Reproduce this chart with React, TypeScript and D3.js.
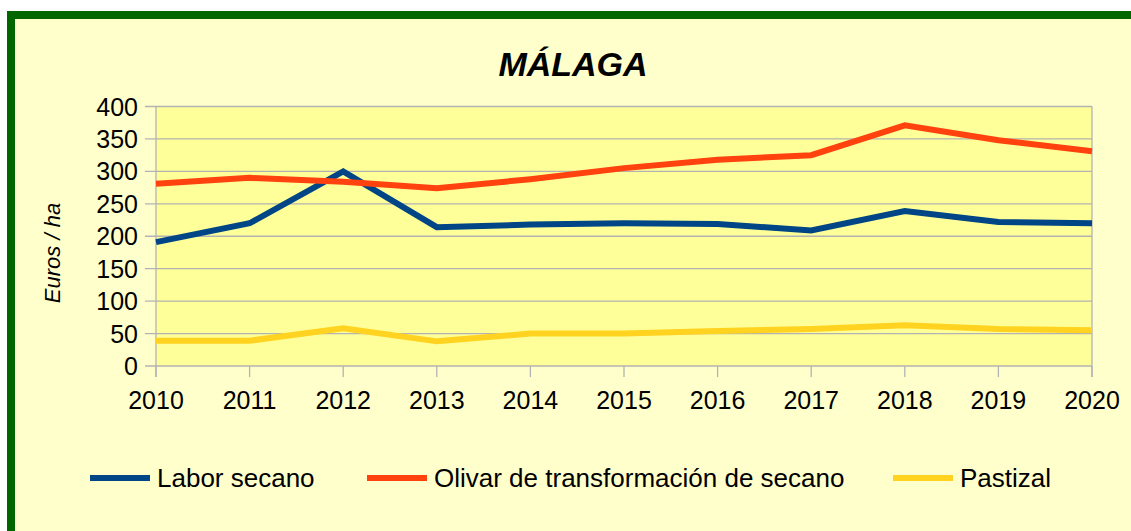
import React, { useEffect, useRef } from 'react';
import * as d3 from 'd3';

const years = ['2010', '2011', '2012', '2013', '2014', '2015', '2016', '2017', '2018', '2019', '2020'];
const laborSecano = [191, 220, 300, 214, 218, 220, 219, 209, 239, 222, 220];
const olivarSecano = [281, 290, 284, 274, 288, 305, 318, 325, 371, 348, 331];
const pastizal = [39, 39, 58, 38, 50, 50, 54, 57, 63, 57, 55];
const yTicks = [0, 50, 100, 150, 200, 250, 300, 350, 400];

const series = [
  { name: 'Labor secano', values: laborSecano, color: '#004586' },
  { name: 'Olivar de transformación de secano', values: olivarSecano, color: '#ff420e' },
  { name: 'Pastizal', values: pastizal, color: '#ffd320' },
];

function App() {
  const ref = useRef<SVGSVGElement>(null);

  useEffect(() => {
    const width = 1131;
    const height = 531;
    const plot = { left: 156, right: 1092, top: 106.5, bottom: 366 };
    const font = '"Liberation Sans", Arial, sans-serif';

    const svg = d3.select(ref.current);
    svg.selectAll('*').remove();

    svg.append('rect').attr('width', width).attr('height', height).attr('fill', '#ffffff');
    // outer frame, cropped at right and bottom
    svg.append('rect')
      .attr('x', 11).attr('y', 15)
      .attr('width', 1300).attr('height', 700)
      .attr('fill', '#ffffcc')
      .attr('stroke', '#006600')
      .attr('stroke-width', 8);

    const x = d3.scalePoint().domain(years).range([plot.left, plot.right]);
    const y = d3.scaleLinear().domain([0, 400]).range([plot.bottom, plot.top]);

    svg.append('rect')
      .attr('x', plot.left).attr('y', plot.top)
      .attr('width', plot.right - plot.left).attr('height', plot.bottom - plot.top)
      .attr('fill', '#ffff99');

    // grid
    svg.append('g').selectAll('line').data(yTicks).enter().append('line')
      .attr('x1', plot.left - 11).attr('x2', plot.right)
      .attr('y1', d => y(d)).attr('y2', d => y(d))
      .attr('stroke', '#b3b3b3').attr('stroke-width', 1.3);

    svg.append('line')
      .attr('x1', plot.left).attr('x2', plot.left)
      .attr('y1', plot.top).attr('y2', plot.bottom + 11)
      .attr('stroke', '#b3b3b3').attr('stroke-width', 1.3);
    svg.append('line')
      .attr('x1', plot.right).attr('x2', plot.right)
      .attr('y1', plot.top).attr('y2', plot.bottom + 11)
      .attr('stroke', '#b3b3b3').attr('stroke-width', 1.3);
    svg.append('g').selectAll('line').data(years).enter().append('line')
      .attr('x1', d => x(d)!).attr('x2', d => x(d)!)
      .attr('y1', plot.bottom).attr('y2', plot.bottom + 11)
      .attr('stroke', '#b3b3b3').attr('stroke-width', 1.3);

    // tick labels
    svg.append('g').selectAll('text').data(yTicks).enter().append('text')
      .attr('x', 138).attr('y', d => y(d))
      .attr('dy', '0.36em')
      .attr('text-anchor', 'end')
      .style('font-family', font).style('font-size', '25px').attr('fill', '#000')
      .text(d => d);

    svg.append('g').selectAll('text').data(years).enter().append('text')
      .attr('x', d => x(d)!).attr('y', 408.5)
      .attr('text-anchor', 'middle')
      .style('font-family', font).style('font-size', '25px').attr('fill', '#000')
      .text(d => d);

    // title
    svg.append('text')
      .attr('x', 573).attr('y', 75.5)
      .attr('text-anchor', 'middle')
      .style('font-family', font).style('font-size', '34px')
      .style('font-weight', 'bold').style('font-style', 'italic')
      .text('MÁLAGA');

    // y axis title
    svg.append('text')
      .attr('transform', 'translate(60,253) rotate(-90)')
      .attr('text-anchor', 'middle')
      .style('font-family', font).style('font-size', '22px').style('font-style', 'italic')
      .text('Euros / ha');

    // lines
    const line = d3.line<number>()
      .x((d, i) => x(years[i])!)
      .y(d => y(d));

    svg.append('g').selectAll('path').data(series).enter().append('path')
      .attr('d', d => line(d.values))
      .attr('fill', 'none')
      .attr('stroke', d => d.color)
      .attr('stroke-width', 6)
      .attr('stroke-linejoin', 'miter');

    // legend
    const legendX = [90, 367, 893];
    const legend = svg.append('g').selectAll('g').data(series).enter().append('g')
      .attr('transform', (d, i) => `translate(${legendX[i]},478)`);
    legend.append('line')
      .attr('x1', 0).attr('x2', 60).attr('y1', 0).attr('y2', 0)
      .attr('stroke', d => d.color).attr('stroke-width', 6);
    legend.append('text')
      .attr('x', 67).attr('y', 0).attr('dy', '0.36em')
      .style('font-family', font).style('font-size', '26px')
      .text(d => d.name);
  }, []);

  return (
    <svg ref={ref} width={1131} height={531}
      style={{ position: 'absolute', left: 0, top: 0, display: 'block' }} />
  );
}

export default App;
